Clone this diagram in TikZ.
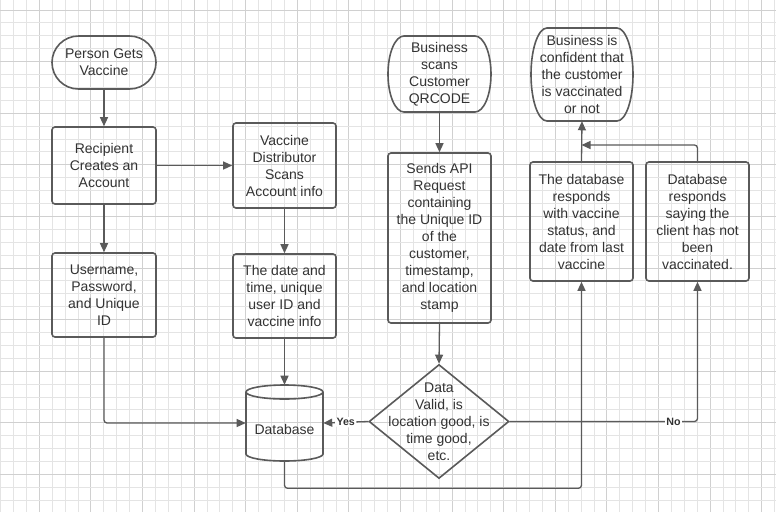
\documentclass[tikz,border=0pt]{standalone}
\usepackage{fontspec}
\setmainfont{Liberation Sans}
\usetikzlibrary{arrows.meta,shapes.geometric}
\newdimen\px \px=0.75pt
\definecolor{ln}{HTML}{5A5A5A}
\definecolor{tx}{HTML}{333333}
\definecolor{gmin}{HTML}{E4E4E4}
\definecolor{gmaj}{HTML}{D0D0D0}
\tikzset{
  shp/.style={draw=ln, line width=1.6\px},
  tfont/.style={font=\fontsize{10.5pt}{12.75pt}\selectfont},
  box/.style={shp, rectangle, rounded corners=3\px, align=center, text=tx, inner sep=0pt, tfont},
  txt/.style={align=center, text=tx, inner sep=0pt, tfont},
  conn/.style={draw=ln, line width=1.3\px, -{Triangle[length=6.75pt,width=6pt]}, rounded corners=3\px},
  lbl/.style={font=\bfseries\fontsize{8pt}{9pt}\selectfont, text=tx, fill=white, inner sep=1pt}
}
\newcommand\termnode[7]{%
  \draw[shp] ({#2-#4/2+#6},{#3-#5/2}) -- ({#2+#4/2-#6},{#3-#5/2})
    arc[start angle=-90,end angle=90,x radius=#6,y radius=#5/2]
    -- ({#2-#4/2+#6},{#3+#5/2})
    arc[start angle=90,end angle=270,x radius=#6,y radius=#5/2] -- cycle;
  \node[txt, minimum width=#4\px, minimum height=#5\px] (#1) at (#2,#3) {#7};}
\begin{document}
\begin{tikzpicture}[x=0.75pt,y=-0.75pt]
\useasboundingbox (0,0) rectangle (776,512);
\fill[white] (0,0) rectangle (776,512);
% grid
\foreach \k in {0,...,60}{
  \pgfmathsetmacro\xx{0.6+12.9*\k}
  \pgfmathtruncatemacro\mm{mod(\k,4)}
  \ifnum\mm=3 \draw[gmaj,line width=1\px] (\xx,0) -- (\xx,512);
  \else \draw[gmin,line width=1\px] (\xx,0) -- (\xx,512); \fi
}
\foreach \k in {-1,...,39}{
  \pgfmathsetmacro\yy{10+12.9*\k}
  \pgfmathtruncatemacro\mm{mod(\k+4,4)}
  \ifnum\mm=0 \draw[gmaj,line width=1\px] (0,\yy) -- (776,\yy);
  \else \draw[gmin,line width=1\px] (0,\yy) -- (776,\yy); \fi
}
% terminals
\termnode{person}{104}{62.5}{104}{53}{26.5}{Person Gets\\Vaccine}
\termnode{qr}{439.5}{74}{103}{76}{16}{Business\\scans\\Customer\\QRCODE}
\termnode{conf}{582}{74.5}{102}{93}{16}{Business is\\confident that\\the customer\\is vaccinated\\or not}
% process boxes
\node[box, minimum width=104\px, minimum height=77\px] (recip) at (104,165.5) {Recipient\\Creates an\\Account};
\node[box, minimum width=103\px, minimum height=85\px] (distr) at (284.5,165.5) {Vaccine\\Distributor\\Scans\\Account info};
\node[box, minimum width=104\px, minimum height=84\px] (user) at (104,295) {Username,\\Password,\\and Unique\\ID};
\node[box, minimum width=103\px, minimum height=84\px] (date) at (284.5,296) {The date and\\time, unique\\user ID and\\vaccine info};
\node[box, minimum width=103\px, minimum height=170\px] (api) at (439.5,238) {Sends API\\Request\\containing\\the Unique ID\\of the\\customer,\\timestamp,\\and location\\stamp};
\node[box, minimum width=103\px, minimum height=119\px] (resp) at (581.5,221.5) {The database\\responds\\with vaccine\\status, and\\date from last\\vaccine};
\node[box, minimum width=103\px, minimum height=119\px] (notv) at (697.5,221.5) {Database\\responds\\saying the\\client has not\\been\\vaccinated.};
% database cylinder
\draw[shp] (246,392) -- (246,454) arc[start angle=180,end angle=0,x radius=38.5,y radius=7] -- (323,392);
\draw[shp] (284.5,392) ellipse[x radius=38.5, y radius=7];
\node[minimum width=77\px, minimum height=76\px, inner sep=0pt] (db) at (284.5,423) {};
\node[txt] (dbtext) at (284.5,429) {Database};
% decision
\node[diamond, shp, minimum width=140\px, minimum height=114\px, inner sep=0pt] (dec) at (439,421.5) {};
\node[txt] (dectext) at (439,421.5) {Data\\Valid, is\\location good, is\\time good,\\etc.};
% connectors
\draw[conn] (person.south) -- (recip.north);
\draw[conn] (recip.south) -- (user.north);
\draw[conn] (recip.east) -- (distr.west);
\draw[conn] (distr.south) -- (date.north);
\draw[conn] (date.south) -- (db.north);
\draw[conn] (user.south) |- (db.west);
\draw[conn] (dec.west) -- node[lbl]{Yes} (db.east);
\draw[conn] (db.south) -- ++(0,27) -| (resp.south);
\draw[conn] (dec.east) -| node[lbl,pos=0.436]{No} (notv.south);
\draw[conn] (resp.north) -- (conf.south);
\coordinate (j1) at (581.5,145);
\draw[conn] (notv.north) |- (j1);
\draw[conn] (qr.south) -- (api.north);
\draw[conn] (api.south) -- (dec.north);
\end{tikzpicture}
\end{document}
